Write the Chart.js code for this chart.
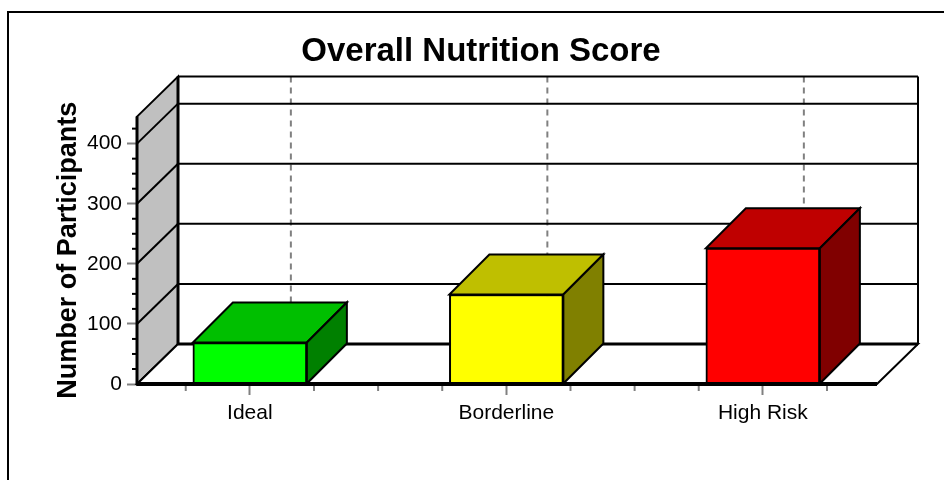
<!DOCTYPE html>
<html>
<head>
<meta charset="utf-8">
<style>
  html, body { margin: 0; padding: 0; background: #fff; overflow: hidden; }
  canvas { display: block; }
</style>
</head>
<body>
<canvas id="score" width="944" height="480"></canvas>
<script src="https://cdn.jsdelivr.net/npm/chart.js@4/dist/chart.umd.min.js"></script>
<script>
var categories = ["Ideal", "Borderline", "High Risk"];
var participants = [69, 149, 226];
var gridValues = [0, 100, 200, 300, 400];

var frontColors = ["#00ff00", "#ffff00", "#ff0000"];
var topColors = ["#00bf00", "#bfbf00", "#bf0000"];
var sideColors = ["#008000", "#808000", "#800000"];

// depth of the box, in pixels
var DX = 41, DY = -40;
var FONT = "'Liberation Sans', Arial, sans-serif";

function poly(ctx, pts, fill, stroke, width) {
    ctx.beginPath();
    ctx.moveTo(pts[0][0], pts[0][1]);
    for (var i = 1; i < pts.length; i++) ctx.lineTo(pts[i][0], pts[i][1]);
    ctx.closePath();
    if (fill) { ctx.fillStyle = fill; ctx.fill(); }
    if (stroke) { ctx.strokeStyle = stroke; ctx.lineWidth = width; ctx.stroke(); }
}

function line(ctx, x1, y1, x2, y2, color, width) {
    ctx.beginPath();
    ctx.moveTo(x1, y1);
    ctx.lineTo(x2, y2);
    ctx.strokeStyle = color;
    ctx.lineWidth = width;
    ctx.stroke();
}

var box3d = {
    id: "box3d",
    beforeDraw: function (chart) {
        var ctx = chart.ctx;
        ctx.save();
        // page frame runs off the right and bottom
        ctx.strokeStyle = "#000";
        ctx.lineWidth = 2;
        ctx.beginPath();
        ctx.moveTo(8, 480);
        ctx.lineTo(8, 12);
        ctx.lineTo(944, 12);
        ctx.stroke();
        ctx.restore();
    },
    beforeDatasetsDraw: function (chart) {
        var ctx = chart.ctx, a = chart.chartArea;
        var x = chart.scales.x, y = chart.scales.y;
        ctx.save();

        // side wall and floor
        poly(ctx, [[a.left, a.top], [a.left + DX, a.top + DY], [a.left + DX, a.bottom + DY], [a.left, a.bottom]], "#c0c0c0", "#000", 2);
        poly(ctx, [[a.left, a.bottom], [a.right, a.bottom], [a.right + DX, a.bottom + DY], [a.left + DX, a.bottom + DY]], "#fff", "#000", 2);

        // dashed lines on the back wall, one per category
        ctx.setLineDash([6, 5]);
        categories.forEach(function (c, i) {
            var px = x.getPixelForValue(i) + DX;
            line(ctx, px, a.top + DY, px, a.bottom + DY, "#808080", 2);
        });
        ctx.setLineDash([]);

        // grid lines on side wall and back wall
        gridValues.forEach(function (v) {
            var py = y.getPixelForValue(v);
            if (v > 0) line(ctx, a.left, py, a.left + DX, py + DY, "#000", 2);
            line(ctx, a.left + DX, py + DY, a.right + DX, py + DY, "#000", v === 0 ? 3 : 2);
        });

        // outline of back wall
        line(ctx, a.left + DX, a.top + DY, a.right + DX, a.top + DY, "#000", 2);
        line(ctx, a.right + DX, a.top + DY, a.right + DX, a.bottom + DY, "#000", 2);
        line(ctx, a.left + DX, a.top + DY, a.left + DX, a.bottom + DY, "#000", 3);

        // minor ticks
        var v;
        for (v = 25; v < y.max; v += 25) {
            if (v % 100) line(ctx, a.left - 5, y.getPixelForValue(v), a.left, y.getPixelForValue(v), "#000", 2);
        }
        for (v = -0.25; v < 2.5; v += 0.25) {
            if (v % 1) line(ctx, x.getPixelForValue(v), a.bottom, x.getPixelForValue(v), a.bottom + 7, "#808080", 2);
        }

        // bar tops and sides, from the bar elements the library laid out
        chart.getDatasetMeta(0).data.forEach(function (bar, i) {
            var half = bar.width / 2;
            var l = bar.x - half, r = bar.x + half, t = bar.y, b = bar.base;
            poly(ctx, [[l, t], [r, t], [r + DX - 1, t + DY], [l + DX - 1, t + DY]], topColors[i], "#000", 2);
            poly(ctx, [[r, t], [r + DX - 1, t + DY], [r + DX - 1, b + DY], [r, b]], sideColors[i], "#000", 2);
        });
        ctx.restore();
    },
    afterDatasetsDraw: function (chart) {
        var ctx = chart.ctx, a = chart.chartArea;
        ctx.save();
        line(ctx, a.left, a.bottom, a.right, a.bottom, "#000", 4);
        line(ctx, a.left, a.top, a.left, a.bottom, "#000", 3);
        ctx.restore();
    }
};

new Chart(document.getElementById("score").getContext("2d"), {
    type: "bar",
    data: {
        datasets: [{
            data: categories.map(function (c, i) { return { x: i, y: participants[i] }; }),
            backgroundColor: frontColors,
            borderColor: "#000",
            borderWidth: 2,
            barThickness: 114
        }]
    },
    options: {
        responsive: false,
        animation: false,
        layout: { padding: { left: 18, top: 0, right: 0, bottom: 0 } },
        plugins: {
            legend: { display: false },
            tooltip: { enabled: false },
            title: {
                display: true,
                text: "Overall Nutrition Score",
                color: "#000",
                font: { family: FONT, size: 33, weight: "bold" },
                padding: { top: 32, bottom: 45 }
            }
        },
        scales: {
            x: {
                type: "linear",
                offset: false,
                min: -0.44,
                max: 2.445,
                afterBuildTicks: function (s) {
                    s.ticks = categories.map(function (c, i) { return { value: i }; });
                },
                afterFit: function (s) { s.height = 96; },
                ticks: {
                    autoSkip: false,
                    maxRotation: 0,
                    color: "#000",
                    font: { family: FONT, size: 21 },
                    padding: 6,
                    callback: function (v) { return categories[v]; }
                },
                grid: { offset: false, drawOnChartArea: false, drawTicks: true, tickLength: 11, tickColor: "#808080", tickWidth: 2 },
                border: { display: false }
            },
            y: {
                min: 0,
                max: 445,
                afterBuildTicks: function (s) {
                    s.ticks = gridValues.map(function (v) { return { value: v }; });
                },
                afterFit: function (s) { s.width = 119; },
                ticks: { color: "#000", font: { family: FONT, size: 21 }, padding: 5 },
                grid: { drawOnChartArea: false, drawTicks: true, tickLength: 10, tickColor: "#808080", tickWidth: 2 },
                border: { display: false },
                title: {
                    display: true,
                    text: "Number of Participants",
                    color: "#000",
                    font: { family: FONT, size: 27, weight: "bold" },
                    padding: { top: 34, bottom: 0 }
                }
            },
            // empty box that keeps room for the depth on the right, title stays centred on the page
            spacer: {
                position: "right",
                afterFit: function (s) { s.width = 67; },
                ticks: { display: false },
                grid: { display: false },
                border: { display: false }
            }
        }
    },
    plugins: [box3d]
});
</script>
</body>
</html>
